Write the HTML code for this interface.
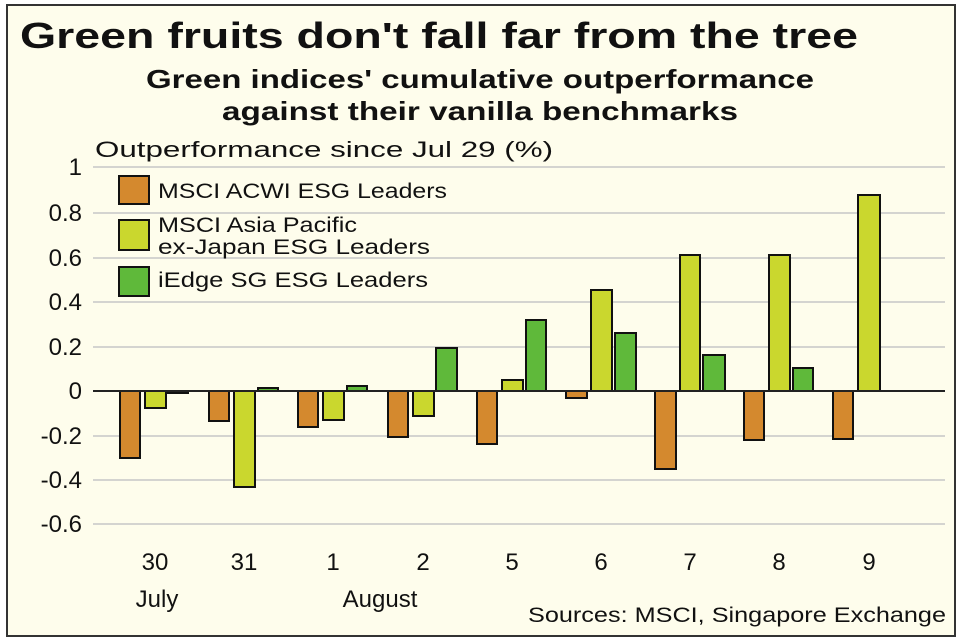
<!DOCTYPE html>
<html><head><meta charset="utf-8"><style>html,body{margin:0;padding:0;background:#fff}svg{display:block}text{font-family:"Liberation Sans",sans-serif;fill:#111}</style></head><body>
<svg width="960" height="640" viewBox="0 0 960 640" xmlns="http://www.w3.org/2000/svg">
<rect x="7" y="5" width="948" height="631" fill="#fefdec" stroke="#333" stroke-width="2"/>
<text x="20" y="48" font-size="36" font-weight="bold" textLength="838" lengthAdjust="spacingAndGlyphs">Green fruits don't fall far from the tree</text>
<text x="480" y="88" font-size="26" font-weight="bold" text-anchor="middle" textLength="668" lengthAdjust="spacingAndGlyphs">Green indices' cumulative outperformance</text>
<text x="480" y="120" font-size="26" font-weight="bold" text-anchor="middle" textLength="516" lengthAdjust="spacingAndGlyphs">against their vanilla benchmarks</text>
<text x="95" y="157" font-size="22" textLength="458" lengthAdjust="spacingAndGlyphs">Outperformance since Jul 29 (%)</text>
<g stroke="#d4d4d0" stroke-width="2">
<line x1="93" x2="945" y1="167" y2="167"/><line x1="93" x2="945" y1="213" y2="213"/><line x1="93" x2="945" y1="258" y2="258"/><line x1="93" x2="945" y1="302" y2="302"/><line x1="93" x2="945" y1="347" y2="347"/><line x1="93" x2="945" y1="436" y2="436"/><line x1="93" x2="945" y1="480" y2="480"/><line x1="93" x2="945" y1="524" y2="524"/>
</g>
<g font-size="24" text-anchor="end">
<text x="82" y="175">1</text><text x="82" y="221">0.8</text><text x="82" y="266">0.6</text><text x="82" y="310">0.4</text><text x="82" y="355">0.2</text><text x="82" y="399">0</text><text x="82" y="444">-0.2</text><text x="82" y="488">-0.4</text><text x="82" y="532">-0.6</text>
</g>
<g stroke="#111" stroke-width="2">
<rect x="119" y="176" width="30" height="28" fill="#d4892e"/>
<rect x="119" y="220" width="30" height="30" fill="#cad72e"/>
<rect x="119" y="267" width="30" height="29" fill="#5fb93a"/>
</g>
<g font-size="21">
<text x="158" y="198" textLength="289" lengthAdjust="spacingAndGlyphs">MSCI ACWI ESG Leaders</text>
<text x="158" y="232" textLength="199" lengthAdjust="spacingAndGlyphs">MSCI Asia Pacific</text>
<text x="158" y="254" textLength="272" lengthAdjust="spacingAndGlyphs">ex-Japan ESG Leaders</text>
<text x="158" y="287" textLength="270" lengthAdjust="spacingAndGlyphs">iEdge SG ESG Leaders</text>
</g>
<g font-size="24" text-anchor="middle">
<text x="155" y="570">30</text><text x="244" y="570">31</text><text x="333" y="570">1</text><text x="423" y="570">2</text><text x="512" y="570">5</text><text x="601" y="570">6</text><text x="690" y="570">7</text><text x="779" y="570">8</text><text x="869" y="570">9</text>
<text x="157" y="607">July</text><text x="380" y="607">August</text>
</g>
<text x="946" y="622" font-size="21" text-anchor="end" textLength="418" lengthAdjust="spacingAndGlyphs">Sources: MSCI, Singapore Exchange</text>
<g stroke="#111" stroke-width="2">
<rect x="120" y="391" width="20" height="67" fill="#d4892e"/><rect x="145" y="391" width="21" height="17" fill="#cad72e"/><rect x="168" y="391" width="20" height="2" fill="#5fb93a"/>
<rect x="209" y="391" width="20" height="30" fill="#d4892e"/><rect x="234" y="391" width="21" height="96" fill="#cad72e"/><rect x="258" y="388" width="20" height="3" fill="#5fb93a"/>
<rect x="298" y="391" width="20" height="36" fill="#d4892e"/><rect x="323" y="391" width="21" height="29" fill="#cad72e"/><rect x="347" y="386" width="20" height="5" fill="#5fb93a"/>
<rect x="388" y="391" width="20" height="46" fill="#d4892e"/><rect x="413" y="391" width="21" height="25" fill="#cad72e"/><rect x="436" y="348" width="21" height="43" fill="#5fb93a"/>
<rect x="477" y="391" width="20" height="53" fill="#d4892e"/><rect x="502" y="380" width="21" height="11" fill="#cad72e"/><rect x="526" y="320" width="20" height="71" fill="#5fb93a"/>
<rect x="566" y="391" width="21" height="7" fill="#d4892e"/><rect x="591" y="290" width="21" height="101" fill="#cad72e"/><rect x="615" y="333" width="21" height="58" fill="#5fb93a"/>
<rect x="655" y="391" width="21" height="78" fill="#d4892e"/><rect x="680" y="255" width="20" height="136" fill="#cad72e"/><rect x="703" y="355" width="22" height="36" fill="#5fb93a"/>
<rect x="744" y="391" width="20" height="49" fill="#d4892e"/><rect x="769" y="255" width="21" height="136" fill="#cad72e"/><rect x="793" y="368" width="20" height="23" fill="#5fb93a"/>
<rect x="833" y="391" width="20" height="48" fill="#d4892e"/><rect x="858" y="195" width="22" height="196" fill="#cad72e"/>
</g>
<line x1="93" x2="945" y1="391" y2="391" stroke="#222" stroke-width="2"/>
</svg>
</body></html>
